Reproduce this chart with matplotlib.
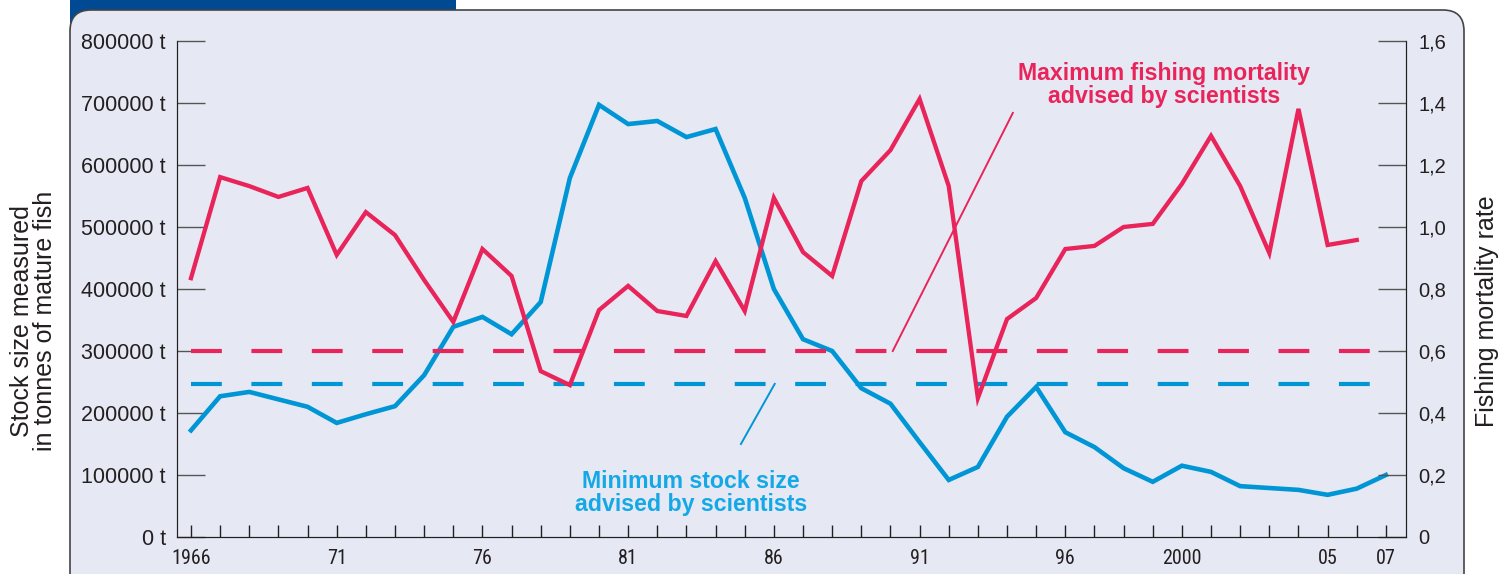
import matplotlib
matplotlib.use('Agg')
import matplotlib.pyplot as plt
from matplotlib.patches import FancyBboxPatch, Rectangle
from matplotlib import font_manager

plt.rcParams['font.family'] = ['Liberation Sans', 'DejaVu Sans']

years = list(range(1966, 2008))
# stock size of mature fish, tonnes (left axis)
stock = [172000, 227000, 234000, 222000, 210000, 184000, 198000, 211000, 261000, 339000,
         355000, 327000, 379000, 579000, 697000, 666000, 671000, 645000, 658000, 547000,
         400000, 319000, 300000, 240000, 215000, 153000, 92000, 113000, 194000, 242000,
         169000, 145000, 111000, 89000, 115000, 105000, 82000, 79000, 76000, 68000,
         78000, 100000]
# fishing mortality rate (right axis), 1966-2006
mort_years = list(range(1966, 2007))
mortality = [0.835, 1.161, 1.132, 1.097, 1.126, 0.910, 1.048, 0.974, 0.829, 0.694,
             0.929, 0.842, 0.535, 0.490, 0.732, 0.810, 0.729, 0.713, 0.890, 0.729,
             1.094, 0.919, 0.842, 1.148, 1.248, 1.413, 1.132, 0.448, 0.703, 0.771,
             0.929, 0.939, 1.000, 1.010, 1.139, 1.294, 1.132, 0.916, 1.381, 0.942,
             0.958]
min_stock = 247000      # minimum stock size advised
max_mort = 0.6          # maximum fishing mortality advised

left_ticks = [0, 100000, 200000, 300000, 400000, 500000, 600000, 700000, 800000]
left_labels = ['0 t', '100000 t', '200000 t', '300000 t', '400000 t',
               '500000 t', '600000 t', '700000 t', '800000 t']
right_ticks = [0, 0.2, 0.4, 0.6, 0.8, 1.0, 1.2, 1.4, 1.6]
right_labels = ['0', '0,2', '0,4', '0,6', '0,8', '1,0', '1,2', '1,4', '1,6']
year_labels = {1966: '1966', 1971: '71', 1976: '76', 1981: '81', 1986: '86',
               1991: '91', 1996: '96', 2000: '2000', 2005: '05', 2007: '07'}

RED = '#e8245a'
BLUE = '#0096d6'
BLUE_TXT = '#14a8e6'
BG = '#e6e9f4'
INK = '#231f20'

# condensed face for the year labels if one is there
installed = {f.name for f in font_manager.fontManager.ttflist}
year_font = 'Liberation Sans'
for name in ['Liberation Sans Narrow', 'DejaVu Sans Condensed', 'Roboto Condensed']:
    if name in installed:
        year_font = name
        break

W, H = 1500, 574
fig = plt.figure(figsize=(15, 5.74), dpi=100, facecolor='white')

# header bar and rounded panel (behind the axes)
fig.patches.append(Rectangle((70 / W, 1 - 30 / H), (456 - 70) / W, 30 / H,
                             transform=fig.transFigure, facecolor='#004a93',
                             edgecolor='none', zorder=-3))
fig.patches.append(FancyBboxPatch((70 / W, -20 / H), (1464 - 70) / W, (564 + 20) / H,
                                  boxstyle='round,pad=0,rounding_size=0.014',
                                  mutation_aspect=W / H,
                                  transform=fig.transFigure, facecolor=BG,
                                  edgecolor='#444444', linewidth=1.2, zorder=-2))

ax = fig.add_axes([177 / W, 37 / H, (1406 - 177) / W, (537 - 41) / H])
ax2 = ax.twinx()
for a in (ax, ax2):
    a.patch.set_visible(False)
    a.spines['top'].set_visible(False)
    a.spines['left'].set_color(INK)
    a.spines['right'].set_color(INK)
    a.spines['bottom'].set_color(INK)

ax.set_xlim(1965.52, 2007.69)
ax.set_ylim(0, 800000)
ax2.set_ylim(0, 1.6)

ax.plot(years, stock, color=BLUE, lw=3.3, solid_joinstyle='miter', zorder=3)
ax.plot([1966, 2007], [min_stock, min_stock], color=BLUE, lw=3,
        dashes=(7.4, 7.1), dash_capstyle='butt', zorder=2)
ax2.plot(mort_years, mortality, color=RED, lw=3.1, solid_joinstyle='miter', zorder=3)
ax2.plot([1966, 2007], [max_mort, max_mort], color=RED, lw=3,
         dashes=(7.4, 7.1), dash_capstyle='butt', zorder=2)

# leader lines
ax2.plot([1990.08, 1994.2], [max_mort, 1.368], color=RED, lw=1.4, zorder=2)
ax.plot([1984.87, 1986.03], [150000, min_stock], color=BLUE, lw=1.4, zorder=2)

ax2.text(1999.4, 1.458, 'Maximum fishing mortality\nadvised by scientists', color=RED,
         fontsize=16.7, fontweight='bold', ha='center', va='center', linespacing=1.0)
ax.text(1983.15, 70200, 'Minimum stock size\nadvised by scientists', color=BLUE_TXT,
        fontsize=16.7, fontweight='bold', ha='center', va='center', linespacing=1.0)

ax.set_yticks(left_ticks)
ax.set_yticklabels(left_labels)
ax.tick_params(axis='y', direction='in', length=20, width=1, color='#555555',
               labelsize=15.5, labelcolor=INK, pad=8)
for t in ax.get_yticklabels():
    t.set_y(t.get_position()[1])
ax2.set_yticks(right_ticks)
ax2.set_yticklabels(right_labels)
ax2.tick_params(axis='y', direction='in', length=20, width=1, color='#555555',
                labelsize=14.5, labelcolor=INK, pad=9)

ax.set_xticks(years)
ax.set_xticklabels([year_labels.get(y, '') for y in years], family=year_font)
ax.tick_params(axis='x', direction='in', length=8.5, width=1, color=INK,
               labelsize=14.5, labelcolor=INK, pad=8.5)

fig.text(22 / W, 1 - 321 / H, 'Stock size measured', rotation=90, fontsize=18,
         color=INK, ha='center', va='center')
fig.text(45 / W, 1 - 321 / H, 'in tonnes of mature fish', rotation=90, fontsize=18,
         color=INK, ha='center', va='center')
fig.text(1487 / W, 1 - 311 / H, 'Fishing mortality rate', rotation=90, fontsize=18,
         color=INK, ha='center', va='center')

fig.savefig('out.png', dpi=100, facecolor='white')
